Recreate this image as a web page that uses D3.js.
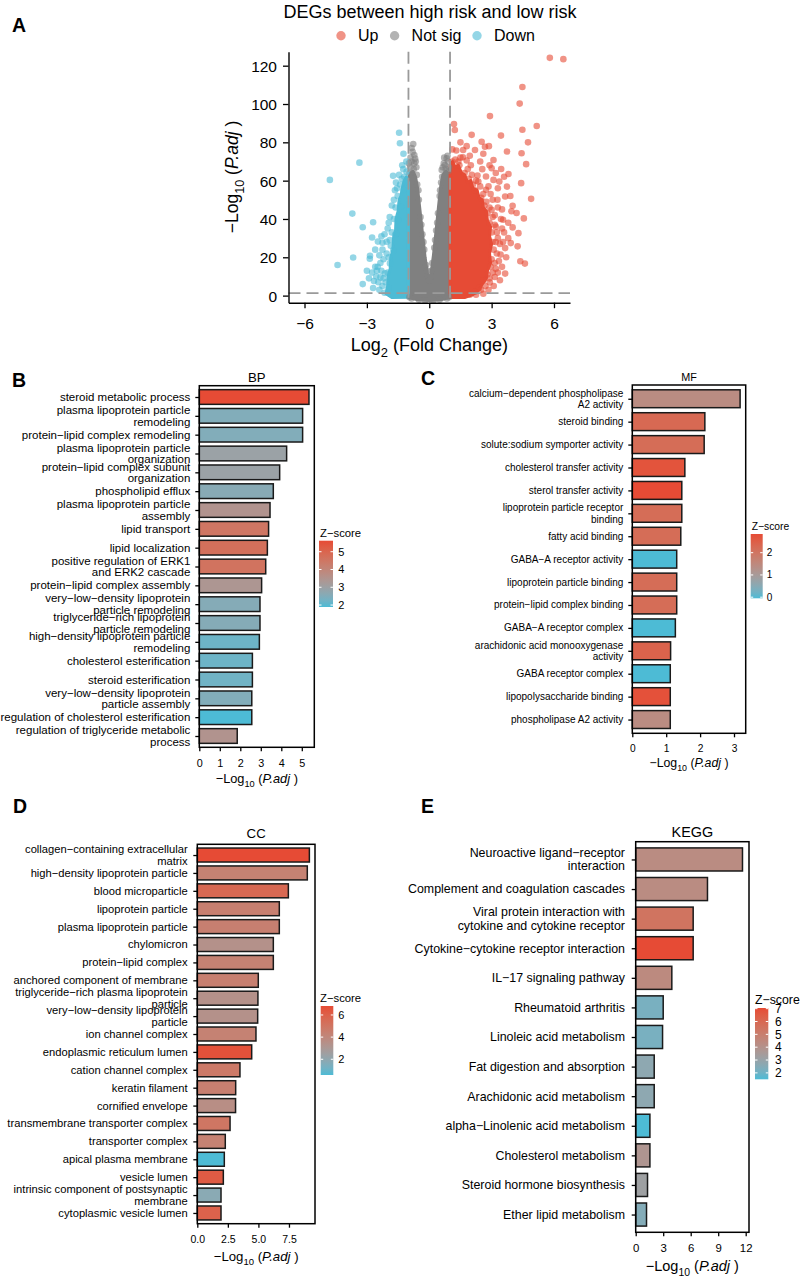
<!DOCTYPE html>
<html>
<head>
<meta charset="utf-8">
<script src="https://cdn.jsdelivr.net/npm/d3@7"></script>
<style>
  body { margin: 0; background: #fff; }
  svg text { font-family: "Liberation Sans", Arial, Helvetica, sans-serif; fill: #000; }
</style>
</head>
<body>
<div id="fig"></div>
<script>
// ---------------- volcano (panel A) data ----------------
const volcanoXTicks = [-6, -3, 0, 3, 6];
const volcanoYTicks = [0, 20, 40, 60, 80, 100, 120];
const volcanoGroups = ["Up", "Not sig", "Down"];

// individual genes: [log2FC, -log10 p.adj]
const upPoints = [
  [5.8,124.1],[6.45,123.4],[4.48,108.9],[4.35,100.2],[2.92,93.7],[5.17,88.5],[4.48,86.6],[1.19,89.6],[1.23,86.4],
  [2.04,83.9],[3.45,83.5],[4.75,80],[2.52,80.3],[2.68,77.7],[2.87,78],[2.6,74],[3.74,75.2],[4.44,74.3],[1.11,76.3],
  [1.3,75.7],[1.63,76],[1.62,72.2],[4.66,68.6],[3.09,70.8],[2.32,62.7],[3.0,66.5],[3.46,66.1],[3.81,63.5],[4.42,58.7],
  [4.9,50.5],[3.37,59.5],[3.74,56.9],[3.65,51.7],[4.01,46.9],[4.2,43.1],[4.55,40.3],[4.01,35.6],[4.29,32.6],[4.25,25.7],
  [4.38,17.9],[4.6,16.7],[3.65,11.5],[3.15,9.7],[2.91,6.9],[3.43,21.4],[3.92,27.4],[3.65,24.8],[3.55,39.6],[3.0,44.8],
  [3.28,50],[2.73,55.2],[2.36,59.5],[2.73,62.2],[3.09,60.4],
  [1.1,70],[1.25,71],[1.45,68],[1.7,64],[1.9,61],[2.1,58],[2.2,55],[2.5,51],[2.65,47],[2.8,43],[2.9,38],[3.0,33],
  [3.05,28],[3.1,24],[3.0,19],[2.95,15],[2.8,11],[2.6,8],[2.4,4],[2.2,2],[1.95,0.5],[3.2,36],[3.3,30],[3.15,42],
  [2.95,53],[3.35,18],[3.2,14],[2.55,66],[2.0,68],[1.8,70.5],[1.5,72],[3.5,45],[3.8,38],[3.6,33],[3.4,27],
  [2.45,57],[2.6,53],[2.75,49],[2.9,46],[3.05,41],[3.15,37],[3.25,33],[3.2,28],[3.25,22],[3.15,17],[3.05,12],
  [2.9,9],[2.7,5],[2.5,3],[2.25,0.5],[2.05,63],[1.85,66],[1.4,70],[2.25,60],[2.85,57],[3.05,50],[3.3,46],[3.45,40],
  [3.5,35],[3.3,12],[3.5,15],[3.4,8],[3.1,5],[2.85,3],[2.6,1],[3.7,20],[3.8,30],[3.55,28],[3.95,44],[3.9,52],
  [3.6,62],[3.3,56],[3.2,64],[2.9,68],[2.45,70],[1.95,73],[2.2,76],[1.5,80],[1.8,78]
];
const notSigPoints = [
  [-0.77,79.1],[-0.72,73.4],[-0.68,71.5],[-0.72,69],[-0.62,67],[-0.85,70],[-0.92,67],[-0.8,75],[-0.95,64],[-0.75,66],
  [0.84,71.6],[0.75,68.1],[0.6,65.5],[0.9,70],[0.95,67],[0.7,69],[0.8,66],[0.88,73],[0.65,67],
  [-0.58,58],[-0.5,50],[-0.42,41],[-0.33,32],[-0.24,24],[-0.15,16],[-0.07,10],[0,8],[0.07,10],[0.15,17],[0.24,25],
  [0.33,34],[0.42,43],[0.5,52],[0.57,59],
  [-0.85,-1.5],[-0.5,-2.2],[-0.2,-2.6],[0.2,-2.6],[0.5,-2.2],[0.85,-1.5],[-0.95,-0.8],[0.95,-0.8],
  [-0.9,72],[-0.85,77],[-0.65,70],[-0.6,63],[-0.52,55],[-0.38,37],[-0.28,28],[-0.1,13],[0.1,13],[0.28,29],
  [0.38,38],[0.52,55],[0.62,62],[0.72,72],[0.92,65],[-0.98,69]
];
const downPoints = [
  [-4.78,60.4],[-3.36,69.4],[-3.7,42.8],[-3.2,35.7],[-2.7,38.3],[-4.41,16],[-3.66,19.9],[-2.85,20.8],[-2.86,19.2],
  [-2.75,30.3],[-2.47,28.2],[-2.25,27.6],[-2.66,7.6],[-2.6,15],[-2.52,13],[-1.45,85],[-1.41,79.5],[-1.24,74],
  [-1.74,62.5],[-1.09,64.7],[-1.2,62],[-1.64,31.8],
  [-2.05,28.1],[-2.48,15],[-2.13,11.6],[-1.89,16.8],[-1.73,23.7],[-1.57,32.4],[-1.49,39.4],[-1.36,46.4],[-1.25,55.1],
  [-2.35,9.5],[-2.25,5],[-2.4,3],[-2.15,1.5],[-2.0,12],[-1.95,20],[-1.85,26],[-1.8,33],[-1.7,40],[-1.62,46],
  [-1.52,52],[-1.4,58],[-1.32,61],[-1.15,59],[-2.2,19],[-2.3,13],[-2.55,10],[-2.1,7],[-1.95,4],[-1.9,29],[-1.7,50],
  [-1.55,56],[-2.05,22],[-2.9,9],[-2.75,12],[-1.1,70],[-1.3,68],
  [-2.15,32],[-2.25,24],[-2.4,21],[-2.6,24],[-2.35,17],[-2.45,7],[-2.7,4],[-2.2,9],[-2.0,35],[-1.9,41],[-1.8,47],
  [-1.65,55],[-1.45,63],[-1.6,59],[-1.25,66],[-2.3,31],[-1.95,38],[-3.0,13],[-3.2,6]
];
// outlines of the saturated (overplotted) clouds
const upCore = [[1.0,-1],[1.0,68],[1.12,70],[1.25,67],[1.4,68],[1.55,64],[1.7,63],[1.85,59],[2.0,60],[2.1,56],
  [2.3,55],[2.4,51],[2.55,50],[2.6,46],[2.75,44],[2.8,39],[2.95,36],[2.9,31],[3.0,27],[2.9,22],[2.95,17],[2.8,13],
  [2.75,9],[2.55,6],[2.4,3],[2.1,0.5],[1.7,-1]];
const notSigCore = [[-1.0,-1],[-1.0,61],[-0.9,64],[-0.78,65],[-0.66,62],[-0.56,56],[-0.45,45],[-0.33,33],[-0.2,20],
  [-0.08,11],[0,9.5],[0.08,11],[0.2,21],[0.33,34],[0.45,47],[0.55,57],[0.65,63],[0.8,65],[0.98,63],[0.98,-1],
  [0.6,-2],[0,-2.5],[-0.6,-2]];
const downCore = [[-1.0,-0.8],[-1.0,59],[-1.1,62],[-1.2,60],[-1.28,57],[-1.36,52],[-1.45,50],[-1.5,44],[-1.6,40],
  [-1.62,34],[-1.72,30],[-1.75,24],[-1.85,20],[-1.88,14],[-1.98,10],[-2.0,5],[-2.08,1],[-1.8,-1]];

// ---------------- enrichment data (panels B-E) ----------------
const bpTerms = [
  "steroid metabolic process", "plasma lipoprotein particle\nremodeling", "protein−lipid complex remodeling",
  "plasma lipoprotein particle\norganization", "protein−lipid complex subunit\norganization", "phospholipid efflux",
  "plasma lipoprotein particle\nassembly", "lipid transport", "lipid localization",
  "positive regulation of ERK1\nand ERK2 cascade", "protein−lipid complex assembly",
  "very−low−density lipoprotein\nparticle remodeling", "triglyceride−rich lipoprotein\nparticle remodeling",
  "high−density lipoprotein particle\nremodeling", "cholesterol esterification", "steroid esterification",
  "very−low−density lipoprotein\nparticle assembly", "regulation of cholesterol esterification",
  "regulation of triglyceride metabolic\nprocess"
];
const bpLogP = [5.35, 5.04, 5.04, 4.26, 3.92, 3.61, 3.45, 3.38, 3.32, 3.24, 3.04, 2.96, 2.96, 2.93, 2.59, 2.59, 2.56, 2.56, 1.85];
const bpZ = [5.62, 2.5, 2.5, 2.95, 2.95, 2.6, 3.5, 4.5, 4.7, 4.6, 3.4, 2.55, 2.55, 2.2, 2.2, 2.25, 2.5, 1.89, 3.5];

const mfTerms = [
  "calcium−dependent phospholipase\nA2 activity", "steroid binding", "solute:sodium symporter activity",
  "cholesterol transfer activity", "sterol transfer activity", "lipoprotein particle receptor\nbinding",
  "fatty acid binding", "GABA−A receptor activity", "lipoprotein particle binding", "protein−lipid complex binding",
  "GABA−A receptor complex", "arachidonic acid monooxygenase\nactivity", "GABA receptor complex",
  "lipopolysaccharide binding", "phospholipase A2 activity"
];
const mfLogP = [3.18, 2.14, 2.12, 1.55, 1.46, 1.46, 1.43, 1.31, 1.31, 1.31, 1.27, 1.13, 1.12, 1.12, 1.12];
const mfZ = [1.4, 2.27, 2.2, 2.7, 2.84, 2.2, 2.2, -0.05, 2.2, 2.2, -0.05, 2.4, -0.05, 2.75, 1.4];

const ccTerms = [
  "collagen−containing extracellular\nmatrix", "high−density lipoprotein particle", "blood microparticle",
  "lipoprotein particle", "plasma lipoprotein particle", "chylomicron", "protein−lipid complex",
  "anchored component of membrane", "triglyceride−rich plasma lipoprotein\nparticle",
  "very−low−density lipoprotein\nparticle", "ion channel complex", "endoplasmic reticulum lumen",
  "cation channel complex", "keratin filament", "cornified envelope", "transmembrane transporter complex",
  "transporter complex", "apical plasma membrane", "vesicle lumen",
  "intrinsic component of postsynaptic\nmembrane", "cytoplasmic vesicle lumen"
];
const ccLogP = [9.17, 9.0, 7.45, 6.71, 6.71, 6.22, 6.22, 4.99, 4.96, 4.94, 4.8, 4.45, 3.49, 3.14, 3.13, 2.68, 2.29, 2.21, 2.13, 1.94, 1.94];
const ccZ = [6.81, 4.3, 5.6, 4.45, 4.45, 3.4, 4.3, 4.45, 3.4, 3.4, 4.3, 6.6, 4.8, 4.45, 3.6, 4.95, 4.3, 0.58, 6.2, 1.8, 5.9];

const keggTerms = [
  "Neuroactive ligand−receptor\ninteraction", "Complement and coagulation cascades",
  "Viral protein interaction with\ncytokine and cytokine receptor", "Cytokine−cytokine receptor interaction",
  "IL−17 signaling pathway", "Rheumatoid arthritis", "Linoleic acid metabolism", "Fat digestion and absorption",
  "Arachidonic acid metabolism", "alpha−Linolenic acid metabolism", "Cholesterol metabolism",
  "Steroid hormone biosynthesis", "Ether lipid metabolism"
];
const keggLogP = [11.65, 7.83, 6.27, 6.27, 3.94, 3.0, 2.93, 2.02, 2.02, 1.55, 1.55, 1.29, 1.18];
const keggZ = [4.3, 4.3, 5.5, 7.05, 4.4, 2.2, 2.2, 2.7, 2.7, 1.5, 3.8, 3.2, 2.45];

const bpTicks = [0, 1, 2, 3, 4, 5];
const mfTicks = [0, 1, 2, 3];
const ccTicks = [0, 2.5, 5, 7.5];
const keggTicks = [0, 3, 6, 9, 12];

// ---------------- drawing ----------------
const lowColor = "#4DBBD5", highColor = "#E64B35";
const groupColor = {"Up": "#E64B35", "Not sig": "#808080", "Down": "#4DBBD5"};

const svg = d3.select("#fig").append("svg")
  .attr("width", 803).attr("height", 1279);
svg.append("rect").attr("width", 803).attr("height", 1279).attr("fill", "#fff");
const defs = svg.append("defs");

// "−Log10 (P.adj)" style label
function logTitle(sel, size, base) {
  sel.style("font-size", size + "px");
  sel.append("tspan").text(base);
  sel.append("tspan").attr("dy", size * 0.32).style("font-size", (size * 0.72) + "px").text(base === "Log" ? "2" : "10");
  if (base === "Log") {
    sel.append("tspan").attr("dy", -size * 0.32).text(" (Fold Change)");
  } else {
    sel.append("tspan").attr("dy", -size * 0.32).text(" (");
    sel.append("tspan").style("font-style", "italic").text("P.adj");
    sel.append("tspan").text(" )");
  }
}

function panelLetter(txt, x, y) {
  svg.append("text").attr("x", x).attr("y", y)
    .style("font-size", "19.5px").style("font-weight", "bold").text(txt);
}

// ---- panel A ----
panelLetter("A", 12, 32);
const va = {left: 288.5, right: 570, top: 51.7, bottom: 302.7};
const vx = d3.scaleLinear().domain([-6.77, 6.77]).range([va.left, va.right]);
const vy = d3.scaleLinear().domain([-3.7, 127.3]).range([va.bottom, va.top]);
const gA = svg.append("g");

svg.append("text").attr("x", 430).attr("y", 17.5).attr("text-anchor", "middle")
  .style("font-size", "18px").text("DEGs between high risk and low risk");

// legend
const legX = [341, 394.6, 477];
volcanoGroups.forEach((gname, i) => {
  svg.append("circle").attr("cx", legX[i]).attr("cy", 35.7).attr("r", 4.7)
    .attr("fill", groupColor[gname]).attr("fill-opacity", 0.6);
  svg.append("text").attr("x", legX[i] + 17).attr("y", 35.7).attr("dy", "0.35em")
    .style("font-size", "16px").text(gname);
});

const coreLine = d3.line().x(d => vx(d[0])).y(d => vy(d[1])).curve(d3.curveLinearClosed);
[[notSigCore, "Not sig"], [downCore, "Down"], [upCore, "Up"]].forEach(([poly, gname]) => {
  gA.append("path").attr("d", coreLine(poly))
    .attr("fill", groupColor[gname]).attr("stroke", groupColor[gname])
    .attr("stroke-width", 3).attr("stroke-linejoin", "round");
});
[[notSigPoints, "Not sig"], [downPoints, "Down"], [upPoints, "Up"]].forEach(([pts, gname]) => {
  gA.append("g").selectAll("circle").data(pts).join("circle")
    .attr("cx", d => vx(d[0])).attr("cy", d => vy(d[1])).attr("r", 3.3)
    .attr("fill", groupColor[gname]).attr("fill-opacity", 0.6);
});

// threshold lines
const dashStyle = sel => sel.attr("stroke", "#9a9a9a").attr("stroke-width", 1.8).attr("stroke-dasharray", "12,6");
[-1, 1].forEach(v => {
  gA.append("line").attr("x1", vx(v)).attr("x2", vx(v)).attr("y1", va.top).attr("y2", va.bottom).call(dashStyle);
});
gA.append("line").attr("x1", va.left).attr("x2", va.right).attr("y1", vy(1.3)).attr("y2", vy(1.3)).call(dashStyle);

// axes
const axX = svg.append("g").attr("transform", `translate(0,${va.bottom})`)
  .call(d3.axisBottom(vx).tickValues(volcanoXTicks).tickSize(5.5).tickSizeOuter(0));
const axY = svg.append("g").attr("transform", `translate(${va.left},0)`)
  .call(d3.axisLeft(vy).tickValues(volcanoYTicks).tickSize(5.5).tickSizeOuter(0));
[axX, axY].forEach(a => {
  a.select(".domain").attr("stroke", "#000").attr("stroke-width", 1.4);
  a.selectAll(".tick line").attr("stroke", "#000").attr("stroke-width", 1.3);
  a.selectAll("text").style("font-size", "15.5px").attr("fill", "#000")
    .style("font-family", "'Liberation Sans', Arial, sans-serif");
});
axX.selectAll("text").attr("y", 20.5).attr("dy", "0.35em");
axY.selectAll("text").attr("x", -11.5).attr("dy", "0.35em");

svg.append("text").attr("x", 429.3).attr("y", 351).attr("text-anchor", "middle").call(logTitle, 18, "Log");
svg.append("text").attr("transform", "translate(238,177) rotate(-90)").attr("text-anchor", "middle")
  .call(logTitle, 17.5, "−Log");

// ---- bar panels ----
function drawBarPanel(id, terms, values, zs, ticks, p) {
  const g = svg.append("g");
  const x = d3.scaleLinear().domain([0, p.xmax]).range([p.x0, p.x1]);
  const y = d3.scalePoint().domain(terms).range([p.y0, p.y1]).padding(0.6);
  const bh = y.step() * 0.78;
  const color = d3.scaleLinear().domain([p.zmin, p.zmax]).range([lowColor, highColor])
    .interpolate(d3.interpolateLab).clamp(true);

  g.selectAll("rect.bar").data(terms).join("rect").attr("class", "bar")
    .attr("x", x(0)).attr("y", d => y(d) - bh / 2)
    .attr("width", (d, i) => x(values[i]) - x(0)).attr("height", bh)
    .attr("fill", (d, i) => color(zs[i]))
    .attr("stroke", "#1a1a1a").attr("stroke-width", 1.5);

  g.append("rect").attr("x", p.x0).attr("y", p.y0).attr("width", p.x1 - p.x0).attr("height", p.y1 - p.y0)
    .attr("fill", "none").attr("stroke", "#000").attr("stroke-width", 1.5);

  // category axis
  const ay = g.append("g").attr("transform", `translate(${p.x0},0)`)
    .call(d3.axisLeft(y).tickSize(4).tickSizeOuter(0).tickFormat(""));
  ay.select(".domain").remove();
  ay.selectAll(".tick line").attr("stroke", "#000").attr("stroke-width", 1.3);
  terms.forEach(t => {
    const lines = t.split("\n");
    const tx = g.append("text").attr("text-anchor", "end").style("font-size", p.labelFont + "px");
    lines.forEach((ln, j) => {
      tx.append("tspan").attr("x", p.x0 - p.labelGap)
        .attr("y", y(t) + (j - (lines.length - 1) / 2) * p.lineH).attr("dy", "0.35em").text(ln);
    });
  });

  // value axis
  const ax = g.append("g").attr("transform", `translate(0,${p.y1})`)
    .call(d3.axisBottom(x).tickValues(ticks).tickSize(4).tickSizeOuter(0).tickFormat(p.fmt));
  ax.select(".domain").remove();
  ax.selectAll(".tick line").attr("stroke", "#000").attr("stroke-width", 1.3);
  ax.selectAll("text").attr("y", p.tickLabelY - p.y1).attr("dy", "0.35em").attr("fill", "#000")
    .style("font-size", p.tickFont + "px").style("font-family", "'Liberation Sans', Arial, sans-serif");

  const cx = (p.x0 + p.x1) / 2;
  g.append("text").attr("x", cx).attr("y", p.axisTitleY).attr("dy", "0.3em").attr("text-anchor", "middle")
    .call(logTitle, p.axisTitleFont, "−Log");
  g.append("text").attr("x", cx).attr("y", p.titleY).attr("dy", "0.35em").attr("text-anchor", "middle")
    .style("font-size", p.titleFont + "px").text(p.title);

  // colour bar legend
  const L = p.legend;
  const grad = defs.append("linearGradient").attr("id", "grad-" + id)
    .attr("x1", 0).attr("x2", 0).attr("y1", 1).attr("y2", 0);
  d3.range(0, 1.0001, 0.1).forEach(t => {
    grad.append("stop").attr("offset", t).attr("stop-color", color(p.zmin + t * (p.zmax - p.zmin)));
  });
  g.append("text").attr("x", L.titleX).attr("y", L.titleY).attr("dy", "0.35em")
    .style("font-size", L.font + 0.3 + "px").text("Z−score");
  g.append("rect").attr("x", L.x).attr("y", L.y0).attr("width", L.w).attr("height", L.y1 - L.y0)
    .attr("fill", `url(#grad-${id})`);
  const ly = d3.scaleLinear().domain([p.zmin, p.zmax]).range([L.y1, L.y0]);
  L.ticks.forEach(v => {
    [[L.x, L.x + 2.5], [L.x + L.w - 2.5, L.x + L.w]].forEach(([a, b]) => {
      g.append("line").attr("x1", a).attr("x2", b).attr("y1", ly(v)).attr("y2", ly(v))
        .attr("stroke", "#fff").attr("stroke-width", 1);
    });
    g.append("text").attr("x", L.labelX).attr("y", ly(v)).attr("dy", "0.35em")
      .style("font-size", L.font + "px").text(v);
  });
}

panelLetter("B", 12, 387);
drawBarPanel("bp", bpTerms, bpLogP, bpZ, bpTicks, {
  x0: 199.3, x1: 314.3, y0: 385.7, y1: 747.3, xmax: 5.61, fmt: d3.format("d"),
  labelFont: 11.5, lineH: 11.7, labelGap: 9, tickFont: 10.8, tickLabelY: 763, axisTitleY: 779, axisTitleFont: 12.8,
  title: "BP", titleY: 377, titleFont: 13.2, zmin: 1.89, zmax: 5.62,
  legend: {x: 319, w: 14, y0: 540.7, y1: 607, ticks: [2, 3, 4, 5], titleX: 320, titleY: 532.7, labelX: 338.3, font: 11}
});

panelLetter("C", 421, 385);
drawBarPanel("mf", mfTerms, mfLogP, mfZ, mfTicks, {
  x0: 632.3, x1: 745.7, y0: 385, y1: 733.3, xmax: 3.345, fmt: d3.format("d"),
  labelFont: 10, lineH: 11.4, labelGap: 9, tickFont: 10.2, tickLabelY: 748, axisTitleY: 763.3, axisTitleFont: 12.3,
  title: "MF", titleY: 377, titleFont: 10.8, zmin: -0.05, zmax: 2.84,
  legend: {x: 750.7, w: 12, y0: 534, y1: 598.3, ticks: [0, 1, 2], titleX: 751.7, titleY: 526.7, labelX: 766.7, font: 10}
});

panelLetter("D", 13, 813);
drawBarPanel("cc", ccTerms, ccLogP, ccZ, ccTicks, {
  x0: 197.3, x1: 315, y0: 844.3, y1: 1223.7, xmax: 9.63, fmt: d3.format(".1f"),
  labelFont: 11.2, lineH: 11.7, labelGap: 9.6, tickFont: 10.5, tickLabelY: 1239, axisTitleY: 1256.7, axisTitleFont: 13.2,
  title: "CC", titleY: 833, titleFont: 13.2, zmin: 0.58, zmax: 6.81,
  legend: {x: 320.7, w: 12.6, y0: 1006, y1: 1075, ticks: [2, 4, 6], titleX: 320, titleY: 998.3, labelX: 338.3, font: 11}
});

panelLetter("E", 421, 813);
drawBarPanel("kegg", keggTerms, keggLogP, keggZ, keggTicks, {
  x0: 635.7, x1: 749, y0: 841.7, y1: 1232.3, xmax: 12.36, fmt: d3.format("d"),
  labelFont: 12.4, lineH: 13.3, labelGap: 10.7, tickFont: 11.4, tickLabelY: 1248, axisTitleY: 1266.7, axisTitleFont: 14.5,
  title: "KEGG", titleY: 831.7, titleFont: 14.4, zmin: 1.5, zmax: 7.05,
  legend: {x: 755, w: 13.3, y0: 1008, y1: 1079.3, ticks: [2, 3, 4, 5, 6, 7], titleX: 755, titleY: 1000, labelX: 775, font: 12}
});
</script>
</body>
</html>
